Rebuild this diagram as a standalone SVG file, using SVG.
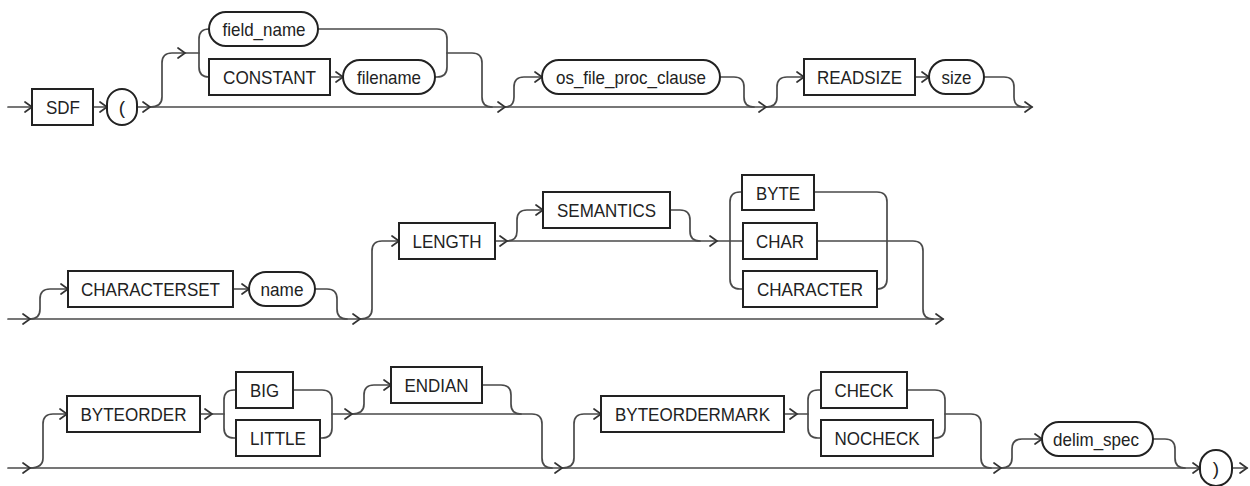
<svg xmlns="http://www.w3.org/2000/svg" xmlns:xlink="http://www.w3.org/1999/xlink" width="1250" height="486" viewBox="0 0 1250 486">
<style>
.bg{fill:#ffffff}
.c{fill:none;stroke:#4a4a4a;stroke-width:1.7;stroke-linejoin:round;stroke-linecap:round}
.ah{fill:none;stroke:#333;stroke-width:1.7;stroke-linejoin:miter;stroke-linecap:round}
.box{fill:#ffffff;stroke:#222;stroke-width:2}
.pill{fill:#ffffff;stroke:#222;stroke-width:2}
.t{font-family:"Liberation Sans",Arial,sans-serif;font-size:19px;fill:#222;text-anchor:middle}
</style>
<defs>
<path id="ah" class="ah" d="M-7,-5 L0,0 L-7,5"/>
</defs>
<rect class="bg" x="0" y="0" width="1250" height="486"/>

<g id="connectors">
<!-- row 1 -->
<path class="c" d="M8,107 H32"/>
<path class="c" d="M93,107 H107"/>
<path class="c" d="M137,107 H1032"/>
<path class="c" d="M150,107 Q162,107 162,97 V63 Q162,53 172,53 H199"/>
<path class="c" d="M209,29 Q199,29 199,39 V67 Q199,77 209,77"/>
<path class="c" d="M330,77 H343"/>
<path class="c" d="M318,29 H437 Q447,29 447,39 V67 Q447,77 437,77 H435"/>
<path class="c" d="M447,53 H472 Q482,53 482,63 V97 Q482,107 492,107"/>
<path class="c" d="M505,107 Q514,107 514,97 V87 Q514,77 524,77 H542"/>
<path class="c" d="M720,77 H734 Q744,77 744,87 V97 Q744,107 754,107"/>
<path class="c" d="M766,107 Q777,107 777,97 V87 Q777,77 787,77 H804"/>
<path class="c" d="M915,77 H929"/>
<path class="c" d="M984,77 H1004 Q1014,77 1014,87 V97 Q1014,107 1024,107"/>
<use xlink:href="#ah" x="32" y="107"/>
<use xlink:href="#ah" x="107" y="107"/>
<use xlink:href="#ah" x="150" y="107"/>
<use xlink:href="#ah" x="185" y="53"/>
<use xlink:href="#ah" x="343" y="77"/>
<use xlink:href="#ah" x="505" y="107"/>
<use xlink:href="#ah" x="542" y="77"/>
<use xlink:href="#ah" x="766" y="107"/>
<use xlink:href="#ah" x="804" y="77"/>
<use xlink:href="#ah" x="929" y="77"/>
<use xlink:href="#ah" x="1032" y="107"/>

<!-- row 2 -->
<path class="c" d="M8,319 H943"/>
<path class="c" d="M30,319 Q40,319 40,309 V299 Q40,289 50,289 H68"/>
<path class="c" d="M233,289 H249"/>
<path class="c" d="M315,289 H327 Q337,289 337,299 V309 Q337,319 347,319"/>
<path class="c" d="M360,319 Q372,319 372,309 V251 Q372,241 382,241 H399"/>
<path class="c" d="M495,241 H743"/>
<path class="c" d="M507,241 Q517,241 517,231 V220 Q517,210 527,210 H543"/>
<path class="c" d="M670,210 H680 Q690,210 690,220 V231 Q690,241 700,241"/>
<path class="c" d="M742,192 H740 Q730,192 730,202 V279 Q730,289 740,289 H743"/>
<path class="c" d="M814,192 H877 Q887,192 887,202 V279 Q887,289 877,289"/>
<path class="c" d="M817,241 H913 Q923,241 923,251 V309 Q923,319 933,319"/>
<use xlink:href="#ah" x="30" y="319"/>
<use xlink:href="#ah" x="68" y="289"/>
<use xlink:href="#ah" x="249" y="289"/>
<use xlink:href="#ah" x="360" y="319"/>
<use xlink:href="#ah" x="399" y="241"/>
<use xlink:href="#ah" x="507" y="241"/>
<use xlink:href="#ah" x="543" y="210"/>
<use xlink:href="#ah" x="717" y="241"/>
<use xlink:href="#ah" x="943" y="319"/>

<!-- row 3 -->
<path class="c" d="M8,468 H1200"/>
<path class="c" d="M30,468 Q43,468 43,458 V424 Q43,414 53,414 H67"/>
<path class="c" d="M200,414 H224"/>
<path class="c" d="M236,390 H234 Q224,390 224,400 V428 Q224,438 234,438 H236"/>
<path class="c" d="M293,390 H322 Q332,390 332,400 V428 Q332,438 322,438 H320"/>
<path class="c" d="M332,414 H532 Q542,414 542,424 V458 Q542,468 552,468"/>
<path class="c" d="M352,414 Q364,414 364,404 V395 Q364,385 374,385 H391"/>
<path class="c" d="M482,385 H501 Q511,385 511,395 V404 Q511,414 521,414"/>
<path class="c" d="M562,468 Q574,468 574,458 V424 Q574,414 584,414 H601"/>
<path class="c" d="M784,414 H808"/>
<path class="c" d="M821,390 H818 Q808,390 808,400 V428 Q808,438 818,438 H821"/>
<path class="c" d="M907,390 H935 Q945,390 945,400 V428 Q945,438 935,438 H933"/>
<path class="c" d="M945,414 H971 Q981,414 981,424 V458 Q981,468 991,468"/>
<path class="c" d="M1001,468 Q1012,468 1012,458 V449 Q1012,439 1022,439 H1042"/>
<path class="c" d="M1153,439 H1165 Q1175,439 1175,449 V458 Q1175,468 1185,468"/>
<path class="c" d="M1232,468 H1247"/>
<use xlink:href="#ah" x="30" y="468"/>
<use xlink:href="#ah" x="67" y="414"/>
<use xlink:href="#ah" x="212" y="414"/>
<use xlink:href="#ah" x="352" y="414"/>
<use xlink:href="#ah" x="391" y="385"/>
<use xlink:href="#ah" x="562" y="468"/>
<use xlink:href="#ah" x="601" y="414"/>
<use xlink:href="#ah" x="797" y="414"/>
<use xlink:href="#ah" x="1001" y="468"/>
<use xlink:href="#ah" x="1042" y="439"/>
<use xlink:href="#ah" x="1200" y="468"/>
<use xlink:href="#ah" x="1247" y="468"/>
</g>

<!-- row 1 nodes -->
<g id="n-sdf"><rect class="box" x="32" y="89" width="61" height="36"/><text class="t" x="63" y="114" textLength="34" lengthAdjust="spacingAndGlyphs">SDF</text></g>
<g id="n-lparen"><rect class="pill" x="107" y="89" width="30" height="36" rx="15" ry="15"/><text class="t" x="122" y="114">(</text></g>
<g id="n-field_name"><rect class="pill" x="209" y="12" width="109" height="34" rx="17" ry="17"/><text class="t" x="264" y="36" textLength="83" lengthAdjust="spacingAndGlyphs">field_name</text></g>
<g id="n-constant"><rect class="box" x="209" y="59" width="121" height="36"/><text class="t" x="269.5" y="84" textLength="93" lengthAdjust="spacingAndGlyphs">CONSTANT</text></g>
<g id="n-filename"><rect class="pill" x="343" y="60" width="92" height="34" rx="17" ry="17"/><text class="t" x="389" y="84" textLength="64" lengthAdjust="spacingAndGlyphs">filename</text></g>
<g id="n-os_file_proc_clause"><rect class="pill" x="542" y="60" width="178" height="34" rx="17" ry="17"/><text class="t" x="631" y="84" textLength="150" lengthAdjust="spacingAndGlyphs">os_file_proc_clause</text></g>
<g id="n-readsize"><rect class="box" x="804" y="59" width="111" height="36"/><text class="t" x="859.5" y="84" textLength="85" lengthAdjust="spacingAndGlyphs">READSIZE</text></g>
<g id="n-size"><rect class="pill" x="929" y="60" width="55" height="34" rx="17" ry="17"/><text class="t" x="956.5" y="84" textLength="30" lengthAdjust="spacingAndGlyphs">size</text></g>

<!-- row 2 nodes -->
<g id="n-characterset"><rect class="box" x="68" y="271" width="165" height="36"/><text class="t" x="150.5" y="296" textLength="139" lengthAdjust="spacingAndGlyphs">CHARACTERSET</text></g>
<g id="n-name"><rect class="pill" x="249" y="272" width="66" height="34" rx="17" ry="17"/><text class="t" x="282" y="296" textLength="43" lengthAdjust="spacingAndGlyphs">name</text></g>
<g id="n-length"><rect class="box" x="399" y="223" width="96" height="36"/><text class="t" x="447" y="248" textLength="69" lengthAdjust="spacingAndGlyphs">LENGTH</text></g>
<g id="n-semantics"><rect class="box" x="543" y="192" width="127" height="36"/><text class="t" x="606.5" y="217" textLength="99" lengthAdjust="spacingAndGlyphs">SEMANTICS</text></g>
<g id="n-byte"><rect class="box" x="742" y="175" width="72" height="35"/><text class="t" x="778" y="199.5" textLength="44" lengthAdjust="spacingAndGlyphs">BYTE</text></g>
<g id="n-char"><rect class="box" x="743" y="223" width="74" height="36"/><text class="t" x="780" y="248" textLength="48" lengthAdjust="spacingAndGlyphs">CHAR</text></g>
<g id="n-character"><rect class="box" x="743" y="271" width="134" height="36"/><text class="t" x="810" y="296" textLength="106" lengthAdjust="spacingAndGlyphs">CHARACTER</text></g>

<!-- row 3 nodes -->
<g id="n-byteorder"><rect class="box" x="67" y="396" width="133" height="36"/><text class="t" x="133.5" y="421" textLength="106" lengthAdjust="spacingAndGlyphs">BYTEORDER</text></g>
<g id="n-big"><rect class="box" x="236" y="372" width="57" height="36"/><text class="t" x="264.5" y="397" textLength="29" lengthAdjust="spacingAndGlyphs">BIG</text></g>
<g id="n-little"><rect class="box" x="236" y="420" width="84" height="36"/><text class="t" x="278" y="445" textLength="56" lengthAdjust="spacingAndGlyphs">LITTLE</text></g>
<g id="n-endian"><rect class="box" x="391" y="367" width="91" height="36"/><text class="t" x="436.5" y="392" textLength="64" lengthAdjust="spacingAndGlyphs">ENDIAN</text></g>
<g id="n-byteordermark"><rect class="box" x="601" y="396" width="183" height="36"/><text class="t" x="692.5" y="421" textLength="155" lengthAdjust="spacingAndGlyphs">BYTEORDERMARK</text></g>
<g id="n-check"><rect class="box" x="821" y="372" width="86" height="36"/><text class="t" x="864" y="397" textLength="59" lengthAdjust="spacingAndGlyphs">CHECK</text></g>
<g id="n-nocheck"><rect class="box" x="821" y="420" width="112" height="36"/><text class="t" x="877" y="445" textLength="85" lengthAdjust="spacingAndGlyphs">NOCHECK</text></g>
<g id="n-delim_spec"><rect class="pill" x="1042" y="422" width="111" height="34" rx="17" ry="17"/><text class="t" x="1096" y="446" textLength="86" lengthAdjust="spacingAndGlyphs">delim_spec</text></g>
<g id="n-rparen"><rect class="pill" x="1200" y="450" width="32" height="36" rx="16" ry="16"/><text class="t" x="1216" y="475">)</text></g>
</svg>
